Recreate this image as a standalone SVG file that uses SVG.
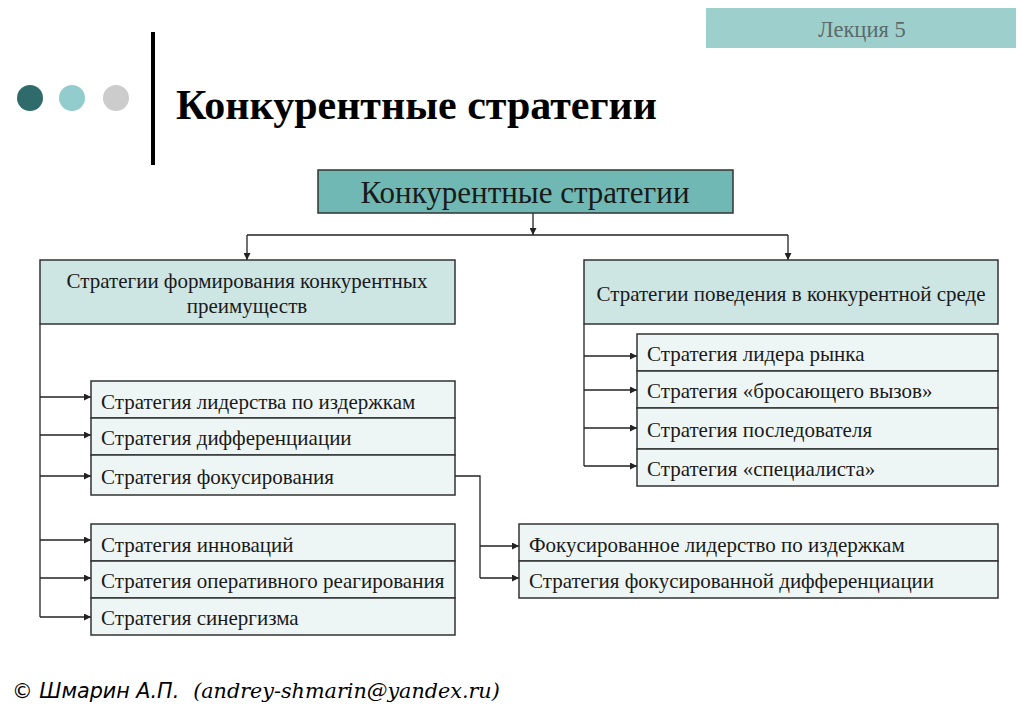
<svg xmlns="http://www.w3.org/2000/svg" width="1024" height="709" viewBox="0 0 1024 709">
<defs>
<marker id="ah" viewBox="0 0 10 10" refX="10" refY="5" markerWidth="7" markerHeight="7" markerUnits="userSpaceOnUse" orient="auto"><path d="M0,0 L10,5 L0,10 z" fill="#222"/></marker>
<style>
.t{font-family:"Liberation Serif","Times New Roman",serif;fill:#1a1a1a;font-size:21px}
.big{font-size:31px}
.box{stroke:#333;stroke-width:1.5}
.hdr{fill:#cde5e3}
.item{fill:#eef6f5}
.ln{stroke:#222;stroke-width:1.3;fill:none}
.ar{marker-end:url(#ah)}
</style>
</defs>
<rect width="1024" height="709" fill="#fff"/>
<g id="header">
<rect x="706" y="8" width="310" height="40" fill="#9dcfcc"/>
<text x="862" y="37" text-anchor="middle" font-family="Liberation Serif,serif" font-size="22.5" fill="#5b6b6b">Лекция 5</text>
<circle cx="30" cy="98" r="13" fill="#2f6b6b"/>
<circle cx="72" cy="98" r="13" fill="#92cccc"/>
<circle cx="116" cy="98" r="13" fill="#cccccc"/>
<rect x="151" y="32" width="4" height="133" fill="#000"/>
<text x="176" y="119" font-family="Liberation Serif,serif" font-weight="bold" font-size="42" fill="#000">Конкурентные стратегии</text>
</g>
<g id="connectors">
<path class="ln ar" d="M533,213 V235"/>
<path class="ln" d="M247,235 H788"/>
<path class="ln ar" d="M247,235 V260"/>
<path class="ln ar" d="M788,235 V260"/>
<path class="ln" d="M40,324 V617"/>
<path class="ln ar" d="M40,397 H91"/>
<path class="ln ar" d="M40,435 H91"/>
<path class="ln ar" d="M40,476 H91"/>
<path class="ln ar" d="M40,540 H91"/>
<path class="ln ar" d="M40,578 H91"/>
<path class="ln ar" d="M40,617 H91"/>
<path class="ln" d="M584,324 V466"/>
<path class="ln ar" d="M584,356 H637"/>
<path class="ln ar" d="M584,390 H637"/>
<path class="ln ar" d="M584,428 H637"/>
<path class="ln ar" d="M584,466 H637"/>
<path class="ln" d="M455,476 H480 V578"/>
<path class="ln ar" d="M480,546 H519"/>
<path class="ln ar" d="M480,578 H519"/>
</g>
<g id="root">
<rect class="box" x="318" y="170" width="415" height="43" fill="#6fb8b3"/>
<text class="t big" x="525" y="203" text-anchor="middle">Конкурентные стратегии</text>
</g>
<g id="left-header">
<rect class="box hdr" x="40" y="260" width="415" height="64"/>
<text class="t" x="247" y="288" text-anchor="middle">Стратегии формирования конкурентных</text>
<text class="t" x="247" y="313" text-anchor="middle">преимуществ</text>
</g>
<g id="right-header">
<rect class="box hdr" x="584" y="260" width="414" height="64"/>
<text class="t" x="791" y="301" text-anchor="middle">Стратегии поведения в конкурентной среде</text>
</g>
<g id="left-group1">
<rect class="box item" x="91" y="381" width="364" height="37"/>
<rect class="box item" x="91" y="418" width="364" height="37"/>
<rect class="box item" x="91" y="455" width="364" height="40"/>
<text class="t" x="101" y="409">Стратегия лидерства по издержкам</text>
<text class="t" x="101" y="445">Стратегия дифференциации</text>
<text class="t" x="101" y="484">Стратегия фокусирования</text>
</g>
<g id="left-group2">
<rect class="box item" x="91" y="524" width="364" height="37"/>
<rect class="box item" x="91" y="561" width="364" height="37"/>
<rect class="box item" x="91" y="598" width="364" height="37"/>
<text class="t" x="101" y="552">Стратегия инноваций</text>
<text class="t" x="101" y="588">Стратегия оперативного реагирования</text>
<text class="t" x="101" y="625">Стратегия синергизма</text>
</g>
<g id="right-group">
<rect class="box item" x="637" y="334" width="361" height="37"/>
<rect class="box item" x="637" y="371" width="361" height="37"/>
<rect class="box item" x="637" y="408" width="361" height="41"/>
<rect class="box item" x="637" y="449" width="361" height="37"/>
<text class="t" x="647" y="361">Стратегия лидера рынка</text>
<text class="t" x="647" y="398">Стратегия «бросающего вызов»</text>
<text class="t" x="647" y="437">Стратегия последователя</text>
<text class="t" x="647" y="476">Стратегия «специалиста»</text>
</g>
<g id="focus-group">
<rect class="box item" x="519" y="524" width="479" height="37"/>
<rect class="box item" x="519" y="561" width="479" height="37"/>
<text class="t" x="529" y="552">Фокусированное лидерство по издержкам</text>
<text class="t" x="529" y="588">Стратегия фокусированной дифференциации</text>
</g>
<g id="footer">
<text x="12" y="698" font-size="20.7" font-style="italic" fill="#000"><tspan font-family="DejaVu Sans,sans-serif">© Шмарин А.П.</tspan><tspan font-family="DejaVu Serif,serif" dx="14">(andrey-shmarin@yandex.ru)</tspan></text>
</g>
</svg>
